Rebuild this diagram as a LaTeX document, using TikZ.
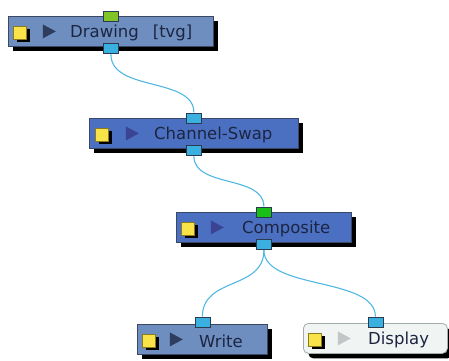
\documentclass[tikz,border=0pt]{standalone}
\usepackage{fontspec}
\setmainfont{DejaVu Sans}
\usetikzlibrary{shadows,shapes.geometric}

\definecolor{plainblue}{HTML}{6E8EC0}
\definecolor{fxblue}{HTML}{4B70C2}
\definecolor{boxline}{HTML}{3A4866}
\definecolor{viewfill}{HTML}{F0F5F4}
\definecolor{viewline}{HTML}{A4ACAC}
\definecolor{captext}{HTML}{1C2540}
\definecolor{lampyellow}{HTML}{F8E448}
\definecolor{lampline}{HTML}{8A7A20}
\definecolor{playdark}{HTML}{2E3C5E}
\definecolor{playfx}{HTML}{3A4492}
\definecolor{playgray}{HTML}{C2C6C6}
\definecolor{portblue}{HTML}{3AB0E0}
\definecolor{portline}{HTML}{2A3A50}
\definecolor{portlime}{HTML}{80C428}
\definecolor{portgreen}{HTML}{18C018}
\definecolor{wireblue}{HTML}{50B8E0}

\begin{document}
\begin{tikzpicture}[x=1pt,y=-1pt,
	box/.style={rectangle, draw=boxline, line width=0.8pt, anchor=north west,
		minimum height=30pt, inner sep=0pt,
		drop shadow={shadow xshift=5pt, shadow yshift=-5pt, fill=black, opacity=1}},
	plainbox/.style={box, fill=plainblue},
	fxbox/.style={box, fill=fxblue},
	viewbox/.style={box, fill=viewfill, draw=viewline, rounded corners=5pt},
	lamp/.style={rectangle, draw=lampline, fill=lampyellow, minimum size=13pt,
		inner sep=0pt, line width=0.8pt,
		drop shadow={shadow xshift=3pt, shadow yshift=-3pt, fill=black, opacity=1}},
	play/.style={isosceles triangle, fill=#1, minimum height=13pt,
		minimum width=14pt, inner sep=0pt, isosceles triangle stretches},
	port/.style={rectangle, draw=portline, fill=#1, minimum width=15pt,
		minimum height=10pt, inner sep=0pt, line width=0.8pt},
	caption/.style={anchor=west, text=captext, inner sep=0pt, yshift=-1.5pt,
		font=\fontsize{16.5}{19}\selectfont},
	wire/.style={draw=wireblue, line width=1.1pt}
	]
	
	\useasboundingbox (0,0) rectangle (449,360);
	
	% nodes
	\node[plainbox, minimum width=205pt] (drawing) at (8,16) {};
	\node[fxbox, minimum width=209pt] (swap) at (89,118) {};
	\node[fxbox, minimum width=175pt] (comp) at (176,212) {};
	\node[plainbox, minimum width=130pt] (write) at (137,324) {};
	\node[viewbox, minimum width=144pt] (display) at (303,323) {};
	
	\node[lamp] (drawing-lamp) at ([xshift=12pt,yshift=-1pt]drawing.west) {};
	\node[lamp] (swap-lamp) at ([xshift=13pt,yshift=-1pt]swap.west) {};
	\node[lamp] (comp-lamp) at ([xshift=12pt,yshift=-1pt]comp.west) {};
	\node[lamp] (write-lamp) at ([xshift=12pt,yshift=-1pt]write.west) {};
	\node[lamp] (display-lamp) at ([xshift=12pt,yshift=-1pt]display.west) {};
	
	\node[play=playdark] (drawing-play) at ([xshift=39pt]drawing.west) {};
	\node[play=playfx] (swap-play) at ([xshift=41pt]swap.west) {};
	\node[play=playfx] (comp-play) at ([xshift=39pt]comp.west) {};
	\node[play=playdark] (write-play) at ([xshift=37pt]write.west) {};
	\node[play=playgray] (display-play) at ([xshift=39pt]display.west) {};
	
	\node[caption] (drawing-text) at ([xshift=62pt]drawing.west) {Drawing\hspace{14pt}[tvg]};
	\node[caption] (swap-text) at ([xshift=65pt]swap.west) {Channel-Swap};
	\node[caption] (comp-text) at ([xshift=66pt]comp.west) {Composite};
	\node[caption] (write-text) at ([xshift=62pt]write.west) {Write};
	\node[caption] (display-text) at ([xshift=65pt]display.west) {Display};
	
	% ports
	\node[port=portlime] (drawing-in) at (drawing.north) {};
	\node[port=portblue] (drawing-out) at ([yshift=-2pt]drawing.south) {};
	\node[port=portblue] (swap-in) at (swap.north) {};
	\node[port=portblue] (swap-out) at ([yshift=-2pt]swap.south) {};
	\node[port=portgreen] (comp-in) at (comp.north) {};
	\node[port=portblue] (comp-out) at ([yshift=-2pt]comp.south) {};
	\node[port=portblue] (write-in) at ([yshift=2pt]write.north) {};
	\node[port=portblue] (display-in) at ([yshift=1pt]display.north) {};
	
	% wires
	\draw[wire] (drawing-out.south) .. controls +(0,38) and +(0,-36) .. (swap-in.north);
	\draw[wire] (swap-out.south) .. controls +(0,32) and +(0,-32) .. (comp-in.north);
	\draw[wire] (comp-out.south) .. controls +(0,40) and +(0,-40) .. (write-in.north);
	\draw[wire] (comp-out.south) .. controls +(0,40) and +(0,-40) .. (display-in.north);
	
\end{tikzpicture}
\end{document}
